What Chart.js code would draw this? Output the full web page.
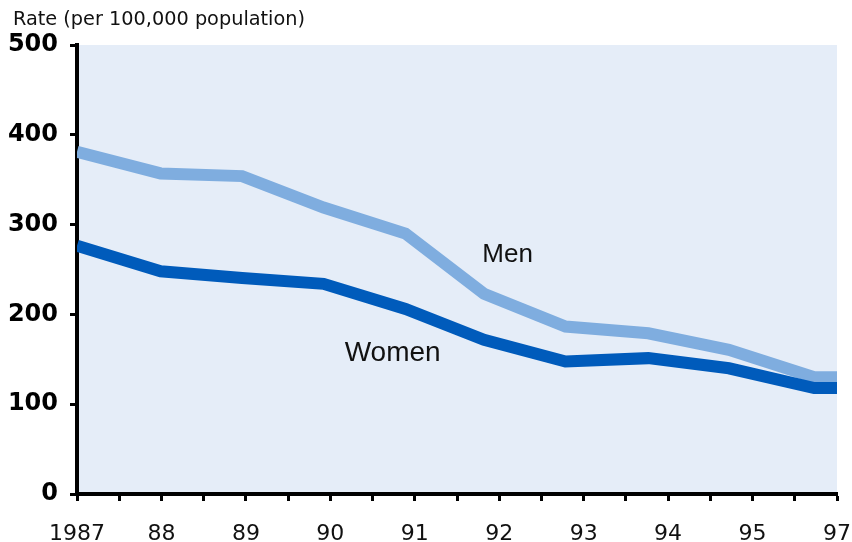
<!DOCTYPE html>
<html>
<head>
<meta charset="utf-8">
<script src="https://cdn.jsdelivr.net/npm/chart.js@4.4.1/dist/chart.umd.min.js"></script>
<style>
  html, body { margin: 0; padding: 0; background: #ffffff; }
  #wrap { width: 852px; height: 542px; position: relative; }
</style>
</head>
<body>
<div id="wrap"><canvas id="c" width="852" height="542"></canvas></div>
<script>
// ---- data ----
const yearLabels = ['1987', '88', '89', '90', '91', '92', '93', '94', '95', '97'];
// positions of the data points along the year axis (label index units)
const pointPositions = [0, 0.99, 1.955, 2.92, 3.89, 4.82, 5.785, 6.765, 7.72, 8.73, 9];
const menRates   = [381, 357, 354, 319, 290, 223, 186.5, 179, 160.5, 130, 130];
const womenRates = [276.5, 248, 240.5, 234, 206, 171.7, 147.5, 151.3, 140, 118, 118];
const yTicks = [0, 100, 200, 300, 400, 500];
const axisTitle = 'Rate (per 100,000 population)';
const seriesNames = ['Men', 'Women'];

const toPoints = (xs, ys) => xs.map((x, i) => ({ x: x, y: ys[i] }));

const bgPlugin = {
  id: 'plotBg',
  beforeDraw(chart) {
    const { ctx, chartArea: a } = chart;
    ctx.save();
    ctx.fillStyle = '#E5EDF8';
    ctx.fillRect(a.left, a.top, a.right - a.left, a.bottom - a.top);
    ctx.restore();
  }
};

const textPlugin = {
  id: 'texts',
  afterDraw(chart) {
    const { ctx } = chart;
    const xs = chart.scales.x, ys = chart.scales.y;
    ctx.save();
    ctx.fillStyle = '#111';
    ctx.textBaseline = 'alphabetic';
    ctx.textAlign = 'left';
    ctx.font = '19.3px "DejaVu Sans"';
    ctx.fillText(axisTitle, 13, 25);
    ctx.font = '26px "Liberation Sans"';
    ctx.fillText(seriesNames[0], xs.getPixelForValue(4.80), ys.getPixelForValue(258.5));
    ctx.font = '28px "Liberation Sans"';
    ctx.fillText(seriesNames[1], xs.getPixelForValue(3.17), ys.getPixelForValue(148));
    ctx.restore();
  }
};

new Chart(document.getElementById('c'), {
  type: 'line',
  data: {
    datasets: [
      {
        label: seriesNames[1],
        data: toPoints(pointPositions, womenRates),
        borderColor: '#005BBB',
        borderWidth: 12,
        borderJoinStyle: 'miter',
        borderCapStyle: 'butt',
        pointRadius: 0,
        tension: 0,
        fill: false,
        order: 0
      },
      {
        label: seriesNames[0],
        data: toPoints(pointPositions, menRates),
        borderColor: '#7FADDF',
        borderWidth: 12,
        borderJoinStyle: 'miter',
        borderCapStyle: 'butt',
        pointRadius: 0,
        tension: 0,
        fill: false,
        order: 1
      }
    ]
  },
  options: {
    responsive: false,
    animation: false,
    devicePixelRatio: 1,
    layout: { padding: { left: 0, top: 45, right: 15, bottom: 0 } },
    plugins: { legend: { display: false }, tooltip: { enabled: false }, title: { display: false } },
    scales: {
      x: {
        type: 'linear',
        min: 0,
        max: yearLabels.length - 1,
        afterFit(scale) { scale.height = 48; scale.paddingLeft = 0; scale.paddingRight = 0; },
        afterBuildTicks(scale) {
          const t = [];
          for (let v = 0; v <= yearLabels.length - 1 + 1e-9; v += 0.5) t.push({ value: v });
          scale.ticks = t;
        },
        border: { display: true, color: '#000', width: 4 },
        grid: { drawOnChartArea: false, drawTicks: true, tickLength: 7, tickWidth: 3, tickColor: '#000' },
        ticks: {
          autoSkip: false,
          maxRotation: 0,
          padding: 20,
          color: '#111',
          font: { family: '"DejaVu Sans"', size: 22 },
          callback(v) { return Number.isInteger(v) ? yearLabels[v] : ''; }
        }
      },
      y: {
        min: 0,
        max: 500,
        afterFit(scale) { scale.width = 77; scale.paddingTop = 0; scale.paddingBottom = 0; },
        afterBuildTicks(scale) { scale.ticks = yTicks.map(v => ({ value: v })); },
        border: { display: true, color: '#000', width: 4 },
        grid: { drawOnChartArea: false, drawTicks: true, tickLength: 7, tickWidth: 3, tickColor: '#000' },
        ticks: {
          padding: 12,
          color: '#000',
          font: { family: '"DejaVu Sans"', size: 24, weight: 'bold' }
        }
      }
    }
  },
  plugins: [bgPlugin, textPlugin]
});
</script>
</body>
</html>
